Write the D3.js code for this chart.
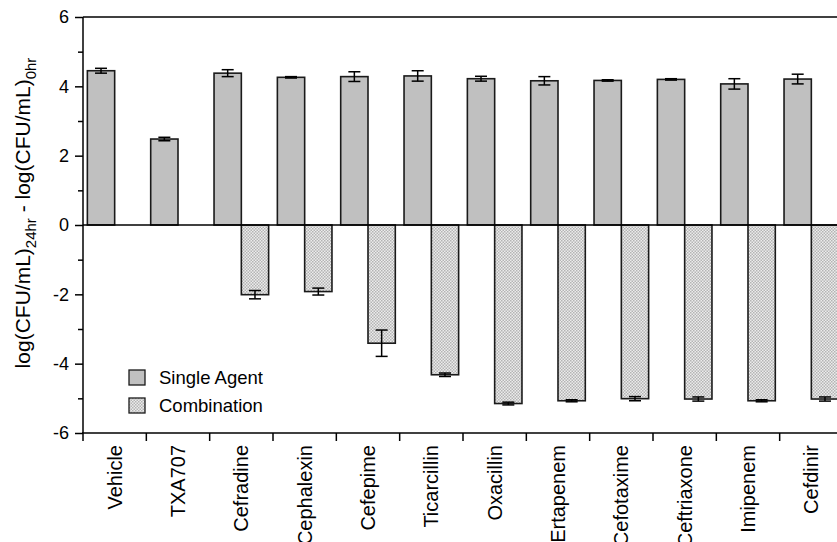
<!DOCTYPE html>
<html>
<head>
<meta charset="utf-8">
<script src="https://cdn.jsdelivr.net/npm/d3@7"></script>
<style>
  html, body { margin: 0; padding: 0; background: #fff; }
  svg { display: block; font-family: "Liberation Sans", Arial, sans-serif; }
</style>
</head>
<body>
<svg id="chart" width="837" height="542"></svg>
<script>
// Antibiotic panel: change in log CFU/mL over 24 h, alone and combined with TXA707
const categories = ["Vehicle", "TXA707", "Cefradine", "Cephalexin", "Cefepime", "Ticarcillin",
  "Oxacillin", "Ertapenem", "Cefotaxime", "Ceftriaxone", "Imipenem", "Cefdinir"];
const singleValues = [4.45, 2.48, 4.38, 4.26, 4.28, 4.30, 4.22, 4.16, 4.17, 4.20, 4.07, 4.21];
const singleErrors = [0.07, 0.05, 0.10, 0.02, 0.14, 0.15, 0.07, 0.12, 0.02, 0.02, 0.15, 0.14];
const comboValues = [null, null, -2.01, -1.92, -3.41, -4.32, -5.15, -5.07, -5.01, -5.02, -5.07, -5.02];
const comboErrors = [null, null, 0.12, 0.10, 0.38, 0.05, 0.04, 0.03, 0.06, 0.06, 0.03, 0.06];
const yTicks = [-6, -4, -2, 0, 2, 4, 6];
const yMinorTicks = [-5, -3, -1, 1, 3, 5];
const seriesNames = ["Single Agent", "Combination"];

const svg = d3.select("#chart");
const plotLeft = 83, plotRight = 843, plotTop = 17, plotBottom = 433;

const x = d3.scaleBand().domain(categories).range([plotLeft, plotRight]).paddingInner(0).paddingOuter(0);
const y = d3.scaleLinear().domain([-6, 6]).range([plotBottom, plotTop]);

// checkered fill for the combination bars
const defs = svg.append("defs");
const pat = defs.append("pattern").attr("id", "checker")
  .attr("patternUnits", "userSpaceOnUse").attr("width", 3).attr("height", 3);
pat.append("rect").attr("width", 3).attr("height", 3).attr("fill", "#ececec");
pat.append("rect").attr("width", 1.5).attr("height", 1.5).attr("fill", "#b4b4b4");
pat.append("rect").attr("x", 1.5).attr("y", 1.5).attr("width", 1.5).attr("height", 1.5).attr("fill", "#b4b4b4");

const sub = d3.scaleBand().domain([0, 1]).range([0, x.bandwidth()]).paddingOuter(0.16).paddingInner(0);
const barW = sub.bandwidth();

// top border
svg.append("line").attr("x1", plotLeft).attr("x2", 837).attr("y1", y(6)).attr("y2", y(6))
  .attr("stroke", "#000").attr("stroke-width", 1.5);

const rows = categories.map((c, i) => ({c, i}));

// single-agent bars
svg.append("g").selectAll("rect").data(rows).join("rect")
  .attr("x", d => x(d.c) + sub(0))
  .attr("y", d => y(singleValues[d.i]))
  .attr("width", barW)
  .attr("height", d => y(0) - y(singleValues[d.i]))
  .attr("fill", "#c0c0c0").attr("stroke", "#1a1a1a").attr("stroke-width", 1.6);

// combination bars
const comboRows = rows.filter(d => comboValues[d.i] !== null);
svg.append("g").selectAll("rect").data(comboRows).join("rect")
  .attr("x", d => x(d.c) + sub(1))
  .attr("y", y(0))
  .attr("width", barW)
  .attr("height", d => y(comboValues[d.i]) - y(0))
  .attr("fill", "url(#checker)").attr("stroke", "#1a1a1a").attr("stroke-width", 1.6);

// error bars
function errorBars(data, values, errors, slot) {
  const g = svg.append("g").attr("stroke", "#000").attr("stroke-width", 1.5);
  const cx = d => x(d.c) + sub(slot) + barW / 2;
  g.selectAll(".v").data(data).join("line")
    .attr("x1", cx).attr("x2", cx)
    .attr("y1", d => y(values[d.i] + errors[d.i]))
    .attr("y2", d => y(values[d.i] - errors[d.i]));
  [1, -1].forEach(s => {
    g.selectAll(".c" + (s > 0 ? "p" : "m")).data(data).join("line")
      .attr("x1", d => cx(d) - 6).attr("x2", d => cx(d) + 6)
      .attr("y1", d => y(values[d.i] + s * errors[d.i]))
      .attr("y2", d => y(values[d.i] + s * errors[d.i]));
  });
}
errorBars(rows, singleValues, singleErrors, 0);
errorBars(comboRows, comboValues, comboErrors, 1);

// zero baseline
svg.append("line").attr("x1", plotLeft).attr("x2", 837).attr("y1", y(0)).attr("y2", y(0))
  .attr("stroke", "#000").attr("stroke-width", 1.5);

// y axis
const yAxis = svg.append("g").attr("transform", `translate(${plotLeft},0)`)
  .call(d3.axisLeft(y).tickValues(yTicks).tickSize(8).tickPadding(6).tickFormat(d => String(d)));
yAxis.select(".domain").attr("stroke-width", 1.5).attr("d", `M0,${plotBottom}V${plotTop}`);
yAxis.selectAll(".tick line").attr("stroke-width", 1.5);
yAxis.selectAll("text").attr("font-size", 18).attr("fill", "#000")
  .attr("font-family", "'Liberation Sans', Arial, sans-serif");
svg.append("g").attr("transform", `translate(${plotLeft},0)`)
  .call(d3.axisLeft(y).tickValues(yMinorTicks).tickSize(5).tickFormat(""))
  .call(g => g.select(".domain").remove())
  .selectAll(".tick line").attr("stroke-width", 1.5);

// x axis with ticks on category boundaries
const xAxis = svg.append("g").attr("transform", `translate(0,${plotBottom})`);
xAxis.append("line").attr("x1", plotLeft - 1).attr("x2", 837).attr("stroke", "#000").attr("stroke-width", 1.5);
xAxis.selectAll(".bt").data(categories).join("line")
  .attr("x1", d => x(d)).attr("x2", d => x(d)).attr("y1", 0).attr("y2", 8)
  .attr("stroke", "#000").attr("stroke-width", 1.5);
xAxis.selectAll("text").data(categories).join("text")
  .attr("transform", d => `translate(${x(d) + x.bandwidth() / 2 + 7},12) rotate(-90)`)
  .attr("text-anchor", "end").attr("font-size", 20).attr("fill", "#000")
  .text(d => d);

// y axis title with subscripts
const title = svg.append("text")
  .attr("transform", `translate(30,213) rotate(-90)`)
  .attr("text-anchor", "middle").attr("font-size", 21).attr("fill", "#000");
title.append("tspan").text("log(CFU/mL)");
title.append("tspan").attr("font-size", 15).attr("dy", 6).text("24hr");
title.append("tspan").attr("dy", -6).text(" - log(CFU/mL)");
title.append("tspan").attr("font-size", 15).attr("dy", 6).text("0hr");

// legend
const legend = svg.append("g").attr("transform", "translate(129,370)");
const fills = ["#c0c0c0", "url(#checker)"];
seriesNames.forEach((name, i) => {
  const g = legend.append("g").attr("transform", `translate(0,${i * 28})`);
  g.append("rect").attr("width", 16).attr("height", 15).attr("fill", fills[i])
    .attr("stroke", "#1a1a1a").attr("stroke-width", 1.3);
  g.append("text").attr("x", 30).attr("y", 14).attr("font-size", 18.5).attr("fill", "#000").text(name);
});
</script>
</body>
</html>
